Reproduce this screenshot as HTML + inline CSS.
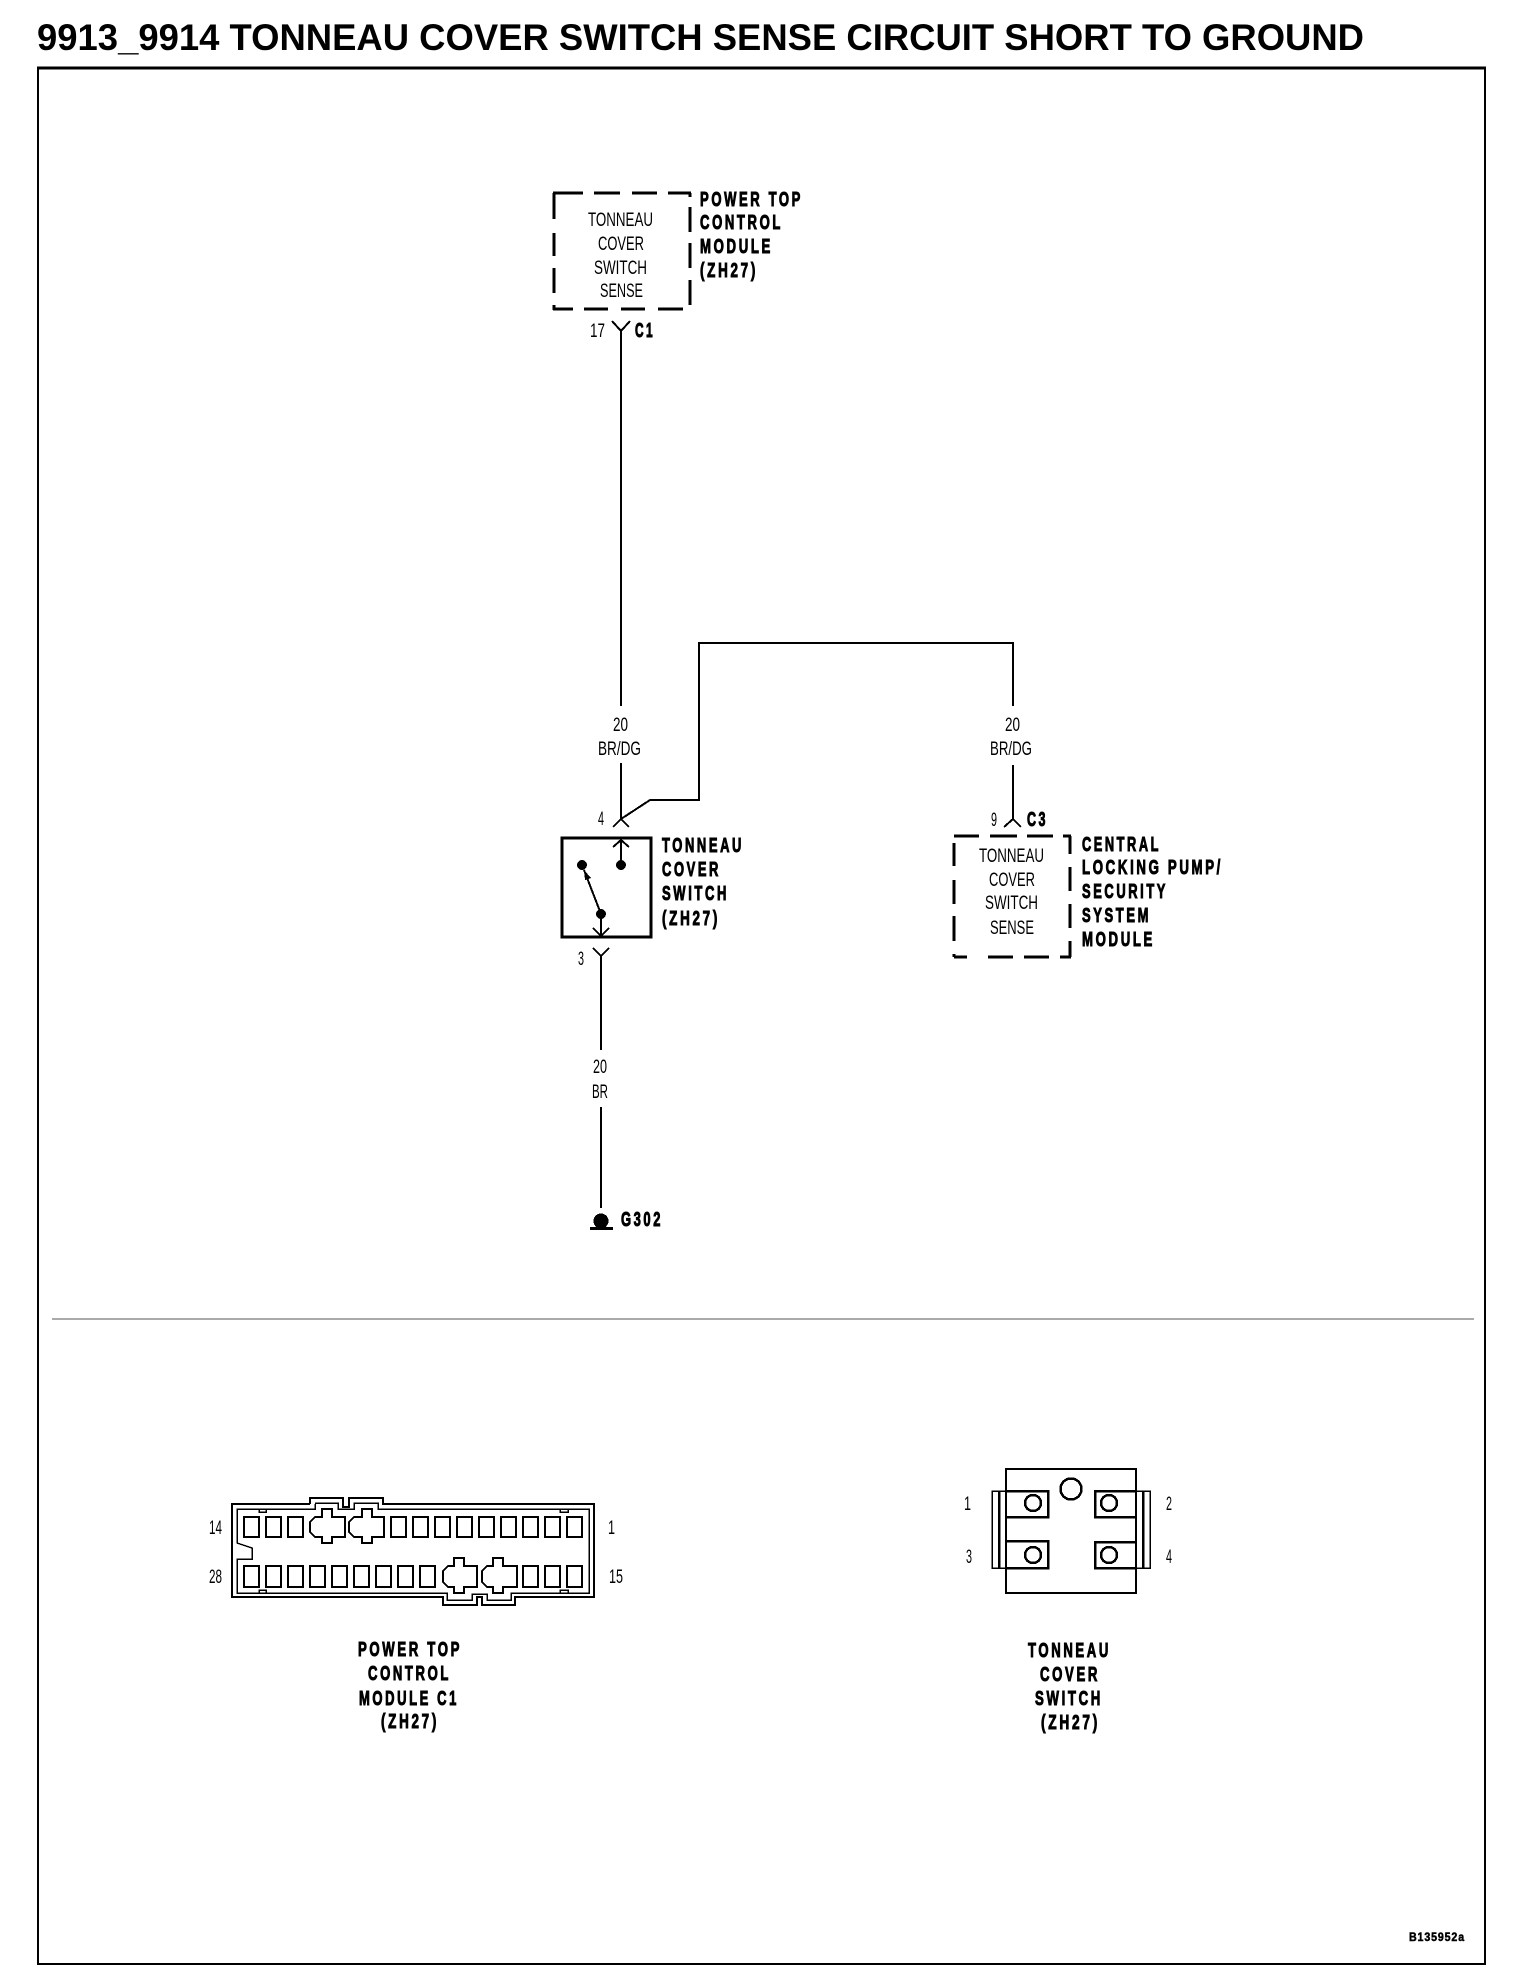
<!DOCTYPE html>
<html>
<head>
<meta charset="utf-8">
<style>
html,body{margin:0;padding:0;background:#fff}
svg{display:block}
text{font-family:"Liberation Sans",sans-serif;fill:#000}
.t{font-weight:bold;font-size:37px}
.n{font-size:19px}
.b{font-weight:bold;font-size:20px;letter-spacing:4px;stroke:#000;stroke-width:1px}
.s{fill:none;stroke:#000;stroke-width:2}
.c{fill:none;stroke:#000;stroke-width:2}
</style>
</head>
<body>
<svg width="1520" height="1984" viewBox="0 0 1520 1984" xmlns="http://www.w3.org/2000/svg" shape-rendering="crispEdges">
<rect width="1520" height="1984" fill="#fff"/>
<text class="t" x="37" y="50" textLength="1327" lengthAdjust="spacingAndGlyphs">9913_9914 TONNEAU COVER SWITCH SENSE CIRCUIT SHORT TO GROUND</text>
<path d="M37 68H1486" stroke="#000" stroke-width="3"/>
<path d="M38 67V1964M1485 67V1964M37 1964H1486" fill="none" stroke="#000" stroke-width="2"/>
<line x1="52" y1="1319" x2="1474" y2="1319" stroke="#555" stroke-width="1"/>

<!-- Power top control module box -->
<path d="M553 193H583M594 193H620M632 193H657M668 193H691M554 193V219M554 233V256M554 268V293M554 305V310M690 193V197M690 207V232M690 243V268M690 280V305M553 309H573M584 309H608M621 309H645M658 309H683" fill="none" stroke="#000" stroke-width="3"/>
<text class="n" x="588" y="226" textLength="65" lengthAdjust="spacingAndGlyphs">TONNEAU</text>
<text class="n" x="598" y="250" textLength="46" lengthAdjust="spacingAndGlyphs">COVER</text>
<text class="n" x="594" y="274" textLength="53" lengthAdjust="spacingAndGlyphs">SWITCH</text>
<text class="n" x="600" y="297" textLength="43" lengthAdjust="spacingAndGlyphs">SENSE</text>
<text class="b" x="700" y="206" textLength="103" lengthAdjust="spacingAndGlyphs">POWER TOP</text>
<text class="b" x="700" y="229" textLength="83" lengthAdjust="spacingAndGlyphs">CONTROL</text>
<text class="b" x="700" y="253" textLength="73" lengthAdjust="spacingAndGlyphs">MODULE</text>
<text class="b" x="700" y="277" textLength="58" lengthAdjust="spacingAndGlyphs">(ZH27)</text>
<text class="n" x="590" y="337" textLength="15" lengthAdjust="spacingAndGlyphs">17</text>
<text class="b" x="635" y="337" textLength="20" lengthAdjust="spacingAndGlyphs">C1</text>
<path class="s" d="M612 321L621 331L630 321M621 331V706"/>

<text class="n" x="613" y="731" textLength="15" lengthAdjust="spacingAndGlyphs">20</text>
<text class="n" x="598" y="755" textLength="43" lengthAdjust="spacingAndGlyphs">BR/DG</text>
<path class="s" d="M621 763V819M613 827L621 819L629 827M621 819L650 800H699V643H1013V706"/>
<text class="n" x="1005" y="731" textLength="15" lengthAdjust="spacingAndGlyphs">20</text>
<text class="n" x="990" y="755" textLength="42" lengthAdjust="spacingAndGlyphs">BR/DG</text>
<path class="s" d="M1013 765V819M1004 827L1013 819L1021 827"/>
<text class="n" x="598" y="825" textLength="6" lengthAdjust="spacingAndGlyphs">4</text>
<text class="n" x="991" y="826" textLength="6" lengthAdjust="spacingAndGlyphs">9</text>
<text class="b" x="1027" y="826" textLength="21" lengthAdjust="spacingAndGlyphs">C3</text>

<!-- Tonneau cover switch -->
<rect x="562" y="838" width="89" height="99" fill="none" stroke="#000" stroke-width="3"/>
<path class="s" d="M613 847L621 840L629 847M621 840V865M601 914L584 870M601 914V936M593 928L601 936L609 928"/>
<circle cx="621" cy="865" r="5"/>
<circle cx="582" cy="865" r="5"/>
<circle cx="601" cy="914" r="5"/>
<polygon points="584,870 585,880 591,878"/>
<path class="s" d="M593 948L601 956L609 948M601 956V1050"/>
<text class="n" x="578" y="965" textLength="6" lengthAdjust="spacingAndGlyphs">3</text>
<text class="b" x="662" y="852" textLength="82" lengthAdjust="spacingAndGlyphs">TONNEAU</text>
<text class="b" x="662" y="876" textLength="59" lengthAdjust="spacingAndGlyphs">COVER</text>
<text class="b" x="662" y="900" textLength="67" lengthAdjust="spacingAndGlyphs">SWITCH</text>
<text class="b" x="662" y="925" textLength="58" lengthAdjust="spacingAndGlyphs">(ZH27)</text>
<text class="n" x="593" y="1073" textLength="14" lengthAdjust="spacingAndGlyphs">20</text>
<text class="n" x="592" y="1098" textLength="16" lengthAdjust="spacingAndGlyphs">BR</text>
<path class="s" d="M601 1107V1208"/>
<circle cx="601" cy="1221" r="7.5"/>
<rect x="590" y="1227" width="23" height="3"/>
<text class="b" x="621" y="1226" textLength="42" lengthAdjust="spacingAndGlyphs">G302</text>

<!-- Central locking box -->
<path d="M954 836H979M990 836H1017M1027 836H1053M1063 836H1071M954 843V866M954 880V904M954 916V941M954 954V957M1070 836V854M1070 867V891M1070 904V928M1070 941V957M954 957H967M988 957H1013M1024 957H1049M1060 957H1071" fill="none" stroke="#000" stroke-width="3"/>
<text class="n" x="979" y="862" textLength="65" lengthAdjust="spacingAndGlyphs">TONNEAU</text>
<text class="n" x="989" y="886" textLength="46" lengthAdjust="spacingAndGlyphs">COVER</text>
<text class="n" x="985" y="909" textLength="53" lengthAdjust="spacingAndGlyphs">SWITCH</text>
<text class="n" x="990" y="934" textLength="44" lengthAdjust="spacingAndGlyphs">SENSE</text>
<text class="b" x="1082" y="851" textLength="79" lengthAdjust="spacingAndGlyphs">CENTRAL</text>
<text class="b" x="1082" y="874" textLength="141" lengthAdjust="spacingAndGlyphs">LOCKING PUMP/</text>
<text class="b" x="1082" y="898" textLength="86" lengthAdjust="spacingAndGlyphs">SECURITY</text>
<text class="b" x="1082" y="922" textLength="69" lengthAdjust="spacingAndGlyphs">SYSTEM</text>
<text class="b" x="1082" y="946" textLength="73" lengthAdjust="spacingAndGlyphs">MODULE</text>

<!-- C1 connector -->
<path class="c" stroke-width="2" d="M310 1504H232V1597H443V1605H477V1597H482V1605H515V1597H594V1504H383V1498H349V1507H343V1498H310V1504"/>
<path fill="none" stroke="#000" stroke-width="1.5" d="M315 1504V1509H237V1543L252 1548V1559H237V1593H447V1600H472V1594H487V1600H511V1593H589V1509H378V1503H354V1509H338V1503H315"/>
<path fill="none" stroke="#000" stroke-width="1.5" d="M259 1509V1512H266V1509M259 1593V1590H266V1593M560 1509V1512H568V1509M560 1593V1590H568V1593"/>
<g fill="none" stroke="#000" stroke-width="2">
<rect x="244" y="1517" width="15" height="20"/><rect x="266" y="1517" width="15" height="20"/><rect x="288" y="1517" width="15" height="20"/>
<rect x="391" y="1517" width="15" height="20"/><rect x="413" y="1517" width="15" height="20"/><rect x="435" y="1517" width="15" height="20"/><rect x="457" y="1517" width="15" height="20"/><rect x="479" y="1517" width="15" height="20"/><rect x="501" y="1517" width="15" height="20"/><rect x="523" y="1517" width="15" height="20"/><rect x="545" y="1517" width="15" height="20"/><rect x="567" y="1517" width="15" height="20"/>
<rect x="244" y="1566" width="15" height="21"/><rect x="266" y="1566" width="15" height="21"/><rect x="288" y="1566" width="15" height="21"/><rect x="310" y="1566" width="15" height="21"/><rect x="332" y="1566" width="15" height="21"/><rect x="354" y="1566" width="15" height="21"/><rect x="376" y="1566" width="15" height="21"/><rect x="398" y="1566" width="15" height="21"/><rect x="420" y="1566" width="15" height="21"/>
<rect x="523" y="1566" width="15" height="21"/><rect x="545" y="1566" width="15" height="21"/><rect x="567" y="1566" width="15" height="21"/>
<path d="M315 1517H322V1509H332V1517H345V1537H332V1543H322V1537H315L310 1532V1522Z"/>
<path d="M354 1517H362V1509H372V1517H384V1537H372V1543H362V1537H354L349 1532V1522Z"/>
<path d="M448 1566H454V1558H464V1566H477V1587H464V1593H454V1587H448L443 1582V1571Z"/>
<path d="M487 1566H493V1558H503V1566H517V1587H503V1593H493V1587H487L482 1582V1571Z"/>
</g>
<text class="n" x="209" y="1534" textLength="13" lengthAdjust="spacingAndGlyphs">14</text>
<text class="n" x="209" y="1583" textLength="13" lengthAdjust="spacingAndGlyphs">28</text>
<text class="n" x="608" y="1534" textLength="7" lengthAdjust="spacingAndGlyphs">1</text>
<text class="n" x="609" y="1583" textLength="14" lengthAdjust="spacingAndGlyphs">15</text>

<text class="b" x="358" y="1656" textLength="104" lengthAdjust="spacingAndGlyphs">POWER TOP</text>
<text class="b" x="368" y="1680" textLength="83" lengthAdjust="spacingAndGlyphs">CONTROL</text>
<text class="b" x="359" y="1705" textLength="100" lengthAdjust="spacingAndGlyphs">MODULE C1</text>
<text class="b" x="381" y="1728" textLength="58" lengthAdjust="spacingAndGlyphs">(ZH27)</text>

<!-- Switch connector -->
<g fill="none" stroke="#000" stroke-width="1.5">
<rect x="1006" y="1469" width="130" height="124" stroke-width="2"/>
<rect x="992" y="1491" width="14" height="77"/>
<rect x="1136" y="1491" width="14" height="77"/>
<circle cx="1071" cy="1489" r="10.5" stroke-width="2.5"/>
<circle cx="1033" cy="1503" r="8" stroke-width="2.5"/>
<circle cx="1033" cy="1555" r="8" stroke-width="2.5"/>
<circle cx="1109" cy="1503" r="8" stroke-width="2.5"/>
<circle cx="1109" cy="1555" r="8" stroke-width="2.5"/>
</g>
<path d="M999 1491V1568M1143 1491V1568M1006 1491H1048V1517H1006M1006 1541H1048V1568H1006M1136 1491H1095V1517H1136M1136 1542H1095V1568H1136" fill="none" stroke="#000" stroke-width="2.5"/>
<text class="n" x="964" y="1510" textLength="7" lengthAdjust="spacingAndGlyphs">1</text>
<text class="n" x="966" y="1563" textLength="6" lengthAdjust="spacingAndGlyphs">3</text>
<text class="n" x="1166" y="1510" textLength="6" lengthAdjust="spacingAndGlyphs">2</text>
<text class="n" x="1166" y="1563" textLength="6" lengthAdjust="spacingAndGlyphs">4</text>
<text class="b" x="1028" y="1657" textLength="83" lengthAdjust="spacingAndGlyphs">TONNEAU</text>
<text class="b" x="1040" y="1681" textLength="60" lengthAdjust="spacingAndGlyphs">COVER</text>
<text class="b" x="1035" y="1705" textLength="68" lengthAdjust="spacingAndGlyphs">SWITCH</text>
<text class="b" x="1041" y="1729" textLength="59" lengthAdjust="spacingAndGlyphs">(ZH27)</text>

<text style="font-weight:bold;font-size:12px;letter-spacing:1px;stroke:#000;stroke-width:.5px" x="1409" y="1941" textLength="56" lengthAdjust="spacingAndGlyphs">B135952a</text>
</svg>
</body>
</html>
